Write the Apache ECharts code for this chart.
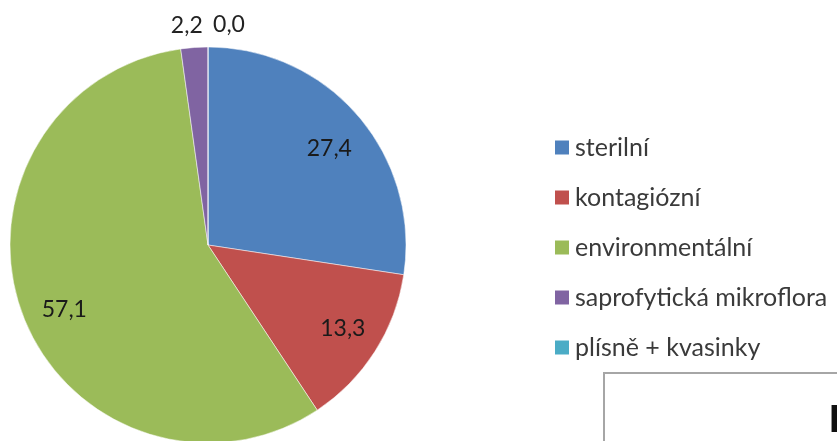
<!DOCTYPE html>
<html>
<head>
<meta charset="utf-8">
<script src="https://cdn.jsdelivr.net/npm/echarts@6/dist/echarts.min.js"></script>
<style>html,body{margin:0;padding:0;background:#fff}#c{width:837px;height:441px}</style>
</head>
<body>
<div id="c"></div>
<script>
var categories = ['sterilní', 'kontagiózní', 'environmentální', 'saprofytická mikroflora', 'plísně + kvasinky'];
var values = [27.4, 13.3, 57.1, 2.2, 0.0];
var colors = ['#4F81BD', '#C0504D', '#9BBB59', '#8064A2', '#4BACC6'];
var insideLabelIdx = [0, 1, 2];

function fmt(v) { return v.toFixed(1).replace('.', ','); }

var chart = echarts.init(document.getElementById('c'), null, {renderer: 'canvas'});
var mainData = categories.map(function (n, i) {
  var small = insideLabelIdx.indexOf(i) < 0;
  return {
    name: n, value: values[i], itemStyle: {color: colors[i]},
    label: {show: small}
  };
});
var labelData = categories.map(function (n, i) {
  return {
    name: 'lbl_' + i, value: values[i],
    label: {show: insideLabelIdx.indexOf(i) >= 0}
  };
});
chart.setOption({
  animation: false,
  legend: {
    orient: 'vertical', left: 548, top: 130,
    data: categories, icon: 'rect', itemWidth: 16, itemHeight: 16, itemGap: 25,
    textStyle: {fontFamily: 'Lato', fontSize: 25, lineHeight: 24, color: '#3a3a3a'}
  },
  graphic: [
    {type: 'rect', shape: {x: 604, y: 373, width: 260, height: 100}, style: {fill: '#fff', stroke: '#a6a6a6', lineWidth: 2}},
    {type: 'text', left: 829, top: 403, style: {text: 'P', font: 'bold 38px "Liberation Sans"', fill: '#111'}}
  ],
  series: [
    {
      type: 'pie', center: [208, 245], radius: 198, startAngle: 90, clockwise: true,
      avoidLabelOverlap: false, silent: true,
      itemStyle: {borderColor: '#ffffff', borderWidth: 0.5},
      label: {position: 'outside', formatter: function (p) { return fmt(p.value); },
        fontFamily: 'Lato', fontSize: 23, color: '#222'},
      labelLine: {show: false, length: 22, length2: 0},
      labelLayout: function (p) {
        if (p.dataIndex === 3) return {align: 'center', dx: -1};
        if (p.dataIndex === 4) return {align: 'center', dx: 26};
        return {};
      },
      data: mainData
    },
    {
      type: 'pie', center: [208, 245], radius: [116, 198], startAngle: 90, clockwise: true,
      silent: true, avoidLabelOverlap: false,
      itemStyle: {color: 'rgba(0,0,0,0)'},
      label: {position: 'inside', formatter: function (p) { return fmt(p.value); },
        fontFamily: 'Lato', fontSize: 23, color: '#1a1a1a'},
      labelLine: {show: false},
      labelLayout: function (p) {
        if (p.dataIndex === 0) return {dy: 8};
        if (p.dataIndex === 1) return {dy: -3};
        if (p.dataIndex === 2) return {dx: 6, dy: 8};
        return {};
      },
      data: labelData
    }
  ]
});
</script>
</body>
</html>
